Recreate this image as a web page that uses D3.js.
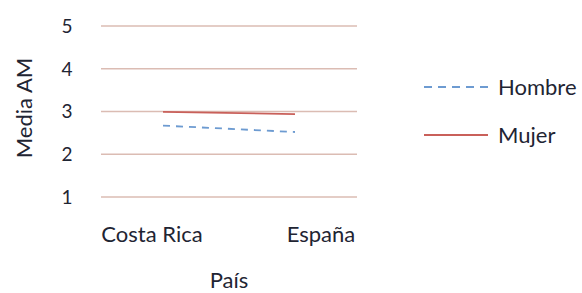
<!DOCTYPE html>
<html>
<head>
<meta charset="utf-8">
<script src="https://cdn.jsdelivr.net/npm/d3@7"></script>
<style>
  body { margin: 0; background: #fff; }
  text { font-family: Lato, "Noto Sans", sans-serif; fill: #1f2533; }
</style>
</head>
<body>
<svg id="chart" width="582" height="293"></svg>
<script>
var paises = ["Costa Rica", "España"];
var yTicks = [1, 2, 3, 4, 5];
var hombre = [2.67, 2.52];
var mujer = [2.99, 2.94];
var series = [
  {name: "Hombre", values: hombre, color: "#6d9bd1", dash: "7,6"},
  {name: "Mujer", values: mujer, color: "#c9605a", dash: null}
];

var svg = d3.select("#chart");
var y = d3.scaleLinear().domain([1, 5]).range([197, 26]);
var xLine = d3.scalePoint().domain(paises).range([163, 295]);
var xLabel = d3.scalePoint().domain(paises).range([152, 321]);

// gridlines
svg.append("g").selectAll("line")
  .data(yTicks)
  .enter().append("line")
  .attr("x1", 101).attr("x2", 357)
  .attr("y1", function(d) { return y(d); })
  .attr("y2", function(d) { return y(d); })
  .attr("stroke", "#dbbcb3").attr("stroke-width", 1.6);

// y tick labels
svg.append("g").selectAll("text")
  .data(yTicks)
  .enter().append("text")
  .attr("x", 67).attr("y", function(d) { return y(d); })
  .attr("dy", "0.36em")
  .attr("text-anchor", "middle")
  .attr("font-size", 19)
  .text(function(d) { return d; });

// x labels
svg.append("g").selectAll("text")
  .data(paises)
  .enter().append("text")
  .attr("x", function(d) { return xLabel(d); })
  .attr("y", 242)
  .attr("text-anchor", "middle")
  .attr("font-size", 22)
  .text(function(d) { return d; });

// axis titles
svg.append("text")
  .attr("x", 229).attr("y", 288)
  .attr("text-anchor", "middle").attr("font-size", 22)
  .text("País");
svg.append("text")
  .attr("transform", "translate(32,108) rotate(-90)")
  .attr("text-anchor", "middle").attr("font-size", 22)
  .text("Media AM");

var line = d3.line()
  .x(function(d, i) { return xLine(paises[i]); })
  .y(function(d) { return y(d); });

svg.append("g").selectAll("path")
  .data(series)
  .enter().append("path")
  .attr("d", function(s) { return line(s.values); })
  .attr("fill", "none")
  .attr("stroke", function(s) { return s.color; })
  .attr("stroke-width", 1.8)
  .attr("stroke-dasharray", function(s) { return s.dash; });

// legend
var legend = svg.append("g").selectAll("g")
  .data(series)
  .enter().append("g")
  .attr("transform", function(s, i) { return "translate(424," + (87 + i * 48) + ")"; });
legend.append("line")
  .attr("x1", 0).attr("x2", 64)
  .attr("stroke", function(s) { return s.color; })
  .attr("stroke-width", 1.8)
  .attr("stroke-dasharray", function(s) { return s.dash ? "8,6" : null; });
legend.append("text")
  .attr("x", 74).attr("dy", "0.36em")
  .attr("font-size", 22)
  .text(function(s) { return s.name; });
</script>
</body>
</html>
